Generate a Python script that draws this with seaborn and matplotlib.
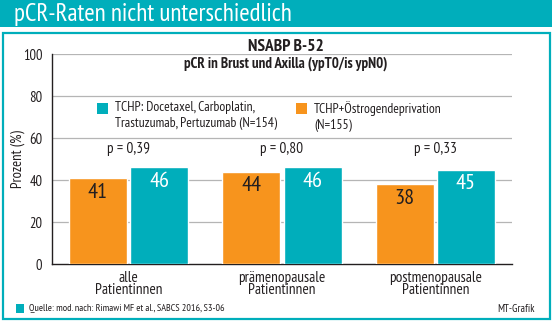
import matplotlib
matplotlib.use("Agg")
import matplotlib.pyplot as plt
from matplotlib import font_manager
from matplotlib.patches import Rectangle
import seaborn as sns
import pandas as pd

# ---- data -------------------------------------------------------------
groups = ["alle\nPatientinnen", "prämenopausale\nPatientinnen", "postmenopausale\nPatientinnen"]
arm_chemo = "TCHP: Docetaxel, Carboplatin,\nTrastuzumab, Pertuzumab (N=154)"
arm_endo = "TCHP+Östrogendeprivation\n(N=155)"
endo_values = [41, 44, 38]
chemo_values = [46, 46, 45]
p_values = ["p = 0,39", "p = 0,80", "p = 0,33"]
y_ticks = [0, 20, 40, 60, 80, 100]

title = "pCR-Raten nicht unterschiedlich"
subtitle1 = "NSABP B-52"
subtitle2 = "pCR in Brust und Axilla (ypT0/is ypN0)"
y_label = "Prozent (%)"
source = "Quelle: mod. nach: Rimawi MF et al., SABCS 2016, S3-06"
credit = "MT-Grafik"

TEAL = "#00AEBB"
ORANGE = "#F7941D"
DARK = "#231F20"

# ---- fonts: a condensed humanist sans if one is installed ---------------
sns.set_theme(style="white")
available = {f.name for f in font_manager.fontManager.ttflist}
preferred = ["PT Sans Narrow", "Cabin Condensed", "Asap Condensed", "Archivo Narrow",
             "Liberation Sans Narrow"]
narrow = next((n for n in preferred if n in available), "DejaVu Sans")
plt.rcParams["font.family"] = [narrow, "DejaVu Sans"]

df = pd.DataFrame({
    "group": groups * 2,
    "arm": [arm_endo] * 3 + [arm_chemo] * 3,
    "value": endo_values + chemo_values,
})

W, H = 552, 321
fig = plt.figure(figsize=(W / 100, H / 100), dpi=100)
fig.patch.set_facecolor("white")


def fx(px):
    return px / W


def fy(py):
    return 1 - py / H


# header band
fig.patches.append(Rectangle((0, fy(27)), 1, 27 / H, transform=fig.transFigure,
                             facecolor=TEAL, edgecolor="none", zorder=0))
fig.text(fx(14), fy(14), title, color="white", fontsize=18, va="center", ha="left")

# framed panel
fig.patches.append(Rectangle((fx(2.5), fy(319)), fx(547), 286 / H, transform=fig.transFigure,
                             facecolor="white", edgecolor=TEAL, linewidth=1.6, zorder=0))

ax = fig.add_axes([fx(52), fy(264), fx(460), (264 - 54) / H])
ax.set_zorder(1)
ax.patch.set_alpha(0)

sns.barplot(data=df, x="group", y="value", hue="arm", hue_order=[arm_endo, arm_chemo],
            palette=[ORANGE, TEAL], width=0.8, gap=0.05, legend=False, ax=ax,
            saturation=1, zorder=3)

ax.set_ylim(0, 100)
ax.set_xlim(-0.5, 2.5)
ax.set_yticks(y_ticks)
ax.set_yticklabels([str(t) for t in y_ticks], fontsize=10.5, color=DARK)
ax.tick_params(axis="y", length=0, pad=7)
ax.tick_params(axis="x", length=0, pad=5)
ax.set_xticks(range(len(groups)))
ax.set_xticklabels(groups, fontsize=11, color=DARK, linespacing=0.85)
ax.set_xlabel("")
ax.set_ylabel(y_label, fontsize=10.5, color=DARK)
ax.yaxis.set_label_coords(-(52 - 25) / 460, 0.5)
for t in y_ticks[1:]:
    ax.axhline(t, color="#B5B5B5", linewidth=0.9, zorder=1)
for side in ("top", "right"):
    ax.spines[side].set_visible(False)
for side in ("left", "bottom"):
    ax.spines[side].set_color(DARK)
    ax.spines[side].set_linewidth(1.0)

# values inside bar tops
for container, color in zip(ax.containers, [DARK, "white"]):
    ax.bar_label(container, labels=[f"{v:.0f}" for v in container.datavalues],
                 padding=-17, fontsize=16, color=color)

# p-values above each group
for i, p in enumerate(p_values):
    ax.text(i, 55, p, ha="center", va="center", fontsize=11, color=DARK)

# headings inside the panel
fig.text(fx(286), fy(47), subtitle1, fontsize=12.5, fontweight="bold",
         ha="center", va="center", color=DARK)
fig.text(fx(286), fy(64), subtitle2, fontsize=10.7, fontweight="bold",
         ha="center", va="center", color=DARK)

# legend
legend_items = [(arm_chemo, TEAL, 97), (arm_endo, ORANGE, 296)]
for label, color, x0 in legend_items:
    fig.patches.append(Rectangle((fx(x0), fy(114)), fx(11), 11 / H, transform=fig.transFigure,
                                 facecolor=color, edgecolor="none", zorder=2))
    fig.text(fx(x0 + 18), fy(101), label, fontsize=9.8, ha="left", va="top",
             color=DARK, linespacing=1.3)

# footer
fig.patches.append(Rectangle((fx(16), fy(313)), fx(8), 9 / H, transform=fig.transFigure,
                             facecolor=TEAL, edgecolor="none", zorder=2))
fig.text(fx(29), fy(308.5), source, fontsize=7.3, ha="left", va="center", color=DARK)
fig.text(fx(535), fy(308.5), credit, fontsize=7.8, ha="right", va="center", color=DARK)

fig.savefig("out.png", dpi=100)
